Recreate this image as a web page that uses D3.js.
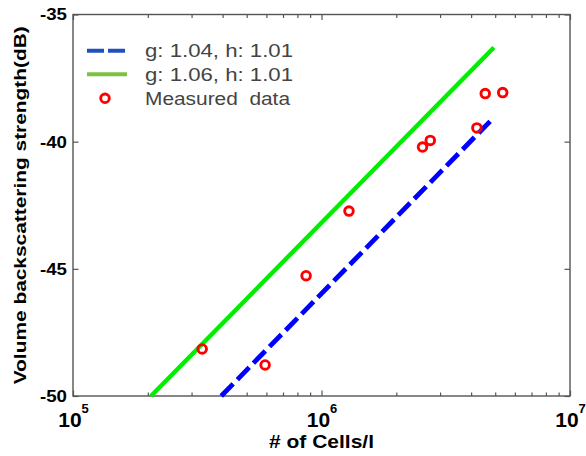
<!DOCTYPE html>
<html><head><meta charset="utf-8">
<script src="https://cdn.jsdelivr.net/npm/d3@7"></script>
<style>body{margin:0;background:#fff}svg{display:block}</style>
</head><body>
<svg id="c" width="586" height="456"></svg>
<script>
// ---- data ----
const xDecades = [1e5, 1e6, 1e7];
const xExponents = ["5", "6", "7"];
const xMinor = [2e5,3e5,4e5,5e5,6e5,7e5,8e5,9e5,2e6,3e6,4e6,5e6,6e6,7e6,8e6,9e6];
const yTicks = [-50, -45, -40, -35];
const yTickLabels = ["-50", "-45", "-40", "-35"];
const seriesNames = ["g: 1.04, h: 1.01", "g: 1.06, h: 1.01", "Measured  data"];
const fitACells = [3.95e5, 4.77e6];
const fitASv = [-50, -39.2];
const fitBCells = [2.06e5, 4.94e6];
const fitBSv = [-50, -36.3];
const measuredCells = [3.31e5, 5.93e5, 8.67e5, 1.29e6, 2.55e6, 2.74e6, 4.22e6, 4.56e6, 5.36e6];
const measuredSv = [-48.15, -48.78, -45.27, -42.73, -40.21, -39.95, -39.46, -38.11, -38.07];

// ---- layout ----
const L = 73, R = 570, T = 14.5, B = 396;
const svg = d3.select("#c");
const font = "'Liberation Sans', Arial, sans-serif";
const x = d3.scaleLog().domain([1e5, 1e7]).range([L, R]);
const y = d3.scaleLinear().domain([-50, -35]).range([B, T]);

const axisColor = "#555";
function styleAxis(g) {
  g.select(".domain").remove();
  g.selectAll(".tick line").attr("stroke", axisColor).attr("stroke-width", 1.2);
}

// minor ticks bottom/top
svg.append("g").attr("transform", `translate(0,${B})`)
  .call(d3.axisBottom(x).tickValues(xMinor).tickFormat("").tickSizeInner(-3.5).tickSizeOuter(0))
  .call(styleAxis);
svg.append("g").attr("transform", `translate(0,${T})`)
  .call(d3.axisTop(x).tickValues(xMinor).tickFormat("").tickSizeInner(-3.5).tickSizeOuter(0))
  .call(styleAxis);
// major x ticks
const gx = svg.append("g").attr("transform", `translate(0,${B})`)
  .call(d3.axisBottom(x).tickValues(xDecades).tickSizeInner(-5.5).tickSizeOuter(0).tickPadding(31))
  .call(styleAxis);
svg.append("g").attr("transform", `translate(0,${T})`)
  .call(d3.axisTop(x).tickValues(xDecades).tickFormat("").tickSizeInner(-5.5).tickSizeOuter(0))
  .call(styleAxis);
gx.selectAll(".tick text").each(function(d, i) {
  const t = d3.select(this);
  t.text(null).attr("font-family", font).attr("fill", "#000").attr("font-weight", "bold")
    .attr("text-anchor", "middle").attr("dy", 0).style("font-size", "21px");
  t.append("tspan").style("font-size", "21px").text("10");
  t.append("tspan").style("font-size", "13px").attr("dy", -14).text(xExponents[i]);
});

// y ticks
const gy = svg.append("g").attr("transform", `translate(${L},0)`)
  .call(d3.axisLeft(y).tickValues(yTicks).tickFormat((d, i) => yTickLabels[i])
    .tickSizeInner(-5.5).tickSizeOuter(0).tickPadding(6))
  .call(styleAxis);
svg.append("g").attr("transform", `translate(${R},0)`)
  .call(d3.axisRight(y).tickValues(yTicks).tickFormat("").tickSizeInner(-5.5).tickSizeOuter(0))
  .call(styleAxis);
gy.selectAll(".tick text")
  .attr("font-family", font).attr("font-weight", "bold").attr("fill", "#000")
  .style("font-size", "17px")
  .attr("textLength", 27).attr("lengthAdjust", "spacingAndGlyphs");

// frame
svg.append("rect").attr("x", L).attr("y", T).attr("width", R - L).attr("height", B - T)
  .attr("fill", "none").attr("stroke", axisColor).attr("stroke-width", 1.4);

// fit lines
const line = d3.line().x(d => x(d[0])).y(d => y(d[1]));
svg.append("path").datum(d3.zip(fitBCells, fitBSv)).attr("d", line)
  .attr("fill", "none").attr("stroke", "#00ee00").attr("stroke-width", 4.4);
svg.append("path").datum(d3.zip(fitACells, fitASv)).attr("d", line)
  .attr("fill", "none").attr("stroke", "#0000ff").attr("stroke-width", 4.8)
  .attr("stroke-dasharray", "17,6");

// measured
svg.append("g").selectAll("circle").data(d3.zip(measuredCells, measuredSv)).join("circle")
  .attr("cx", d => x(d[0])).attr("cy", d => y(d[1])).attr("r", 4.3)
  .attr("fill", "none").attr("stroke", "#ff0000").attr("stroke-width", 2.9);

// legend
const lg = svg.append("g");
const rows = [50.7, 74.3, 98.3];
lg.append("line").attr("x1", 87).attr("x2", 127).attr("y1", rows[0]).attr("y2", rows[0])
  .attr("stroke", "#1f50c0").attr("stroke-width", 4).attr("stroke-dasharray", "17,4");
lg.append("line").attr("x1", 87).attr("x2", 127).attr("y1", rows[1]).attr("y2", rows[1])
  .attr("stroke", "#7cc242").attr("stroke-width", 4);
lg.append("circle").attr("cx", 105).attr("cy", rows[2]).attr("r", 4.3)
  .attr("fill", "none").attr("stroke", "#ff0000").attr("stroke-width", 2.9);
const legendLen = [148, 148, 145];
seriesNames.forEach((s, i) => {
  lg.append("text").attr("x", 145).attr("y", rows[i] + 6.5)
    .attr("font-family", font).attr("font-size", 17.5).attr("fill", "#444")
    .attr("textLength", legendLen[i]).attr("lengthAdjust", "spacingAndGlyphs")
    .style("white-space", "pre").text(s);
});

// axis titles
svg.append("text").attr("x", (L + R) / 2).attr("y", 448).attr("text-anchor", "middle")
  .attr("font-family", font).attr("font-size", 18).attr("font-weight", "bold")
  .attr("textLength", 105).attr("lengthAdjust", "spacingAndGlyphs")
  .text("# of Cells/l");
svg.append("text").attr("transform", `translate(26,${(T + B) / 2}) rotate(-90)`)
  .attr("text-anchor", "middle")
  .attr("font-family", font).attr("font-size", 17).attr("font-weight", "bold")
  .attr("textLength", 358).attr("lengthAdjust", "spacingAndGlyphs")
  .text("Volume backscattering strength(dB)");
</script>
</body></html>
